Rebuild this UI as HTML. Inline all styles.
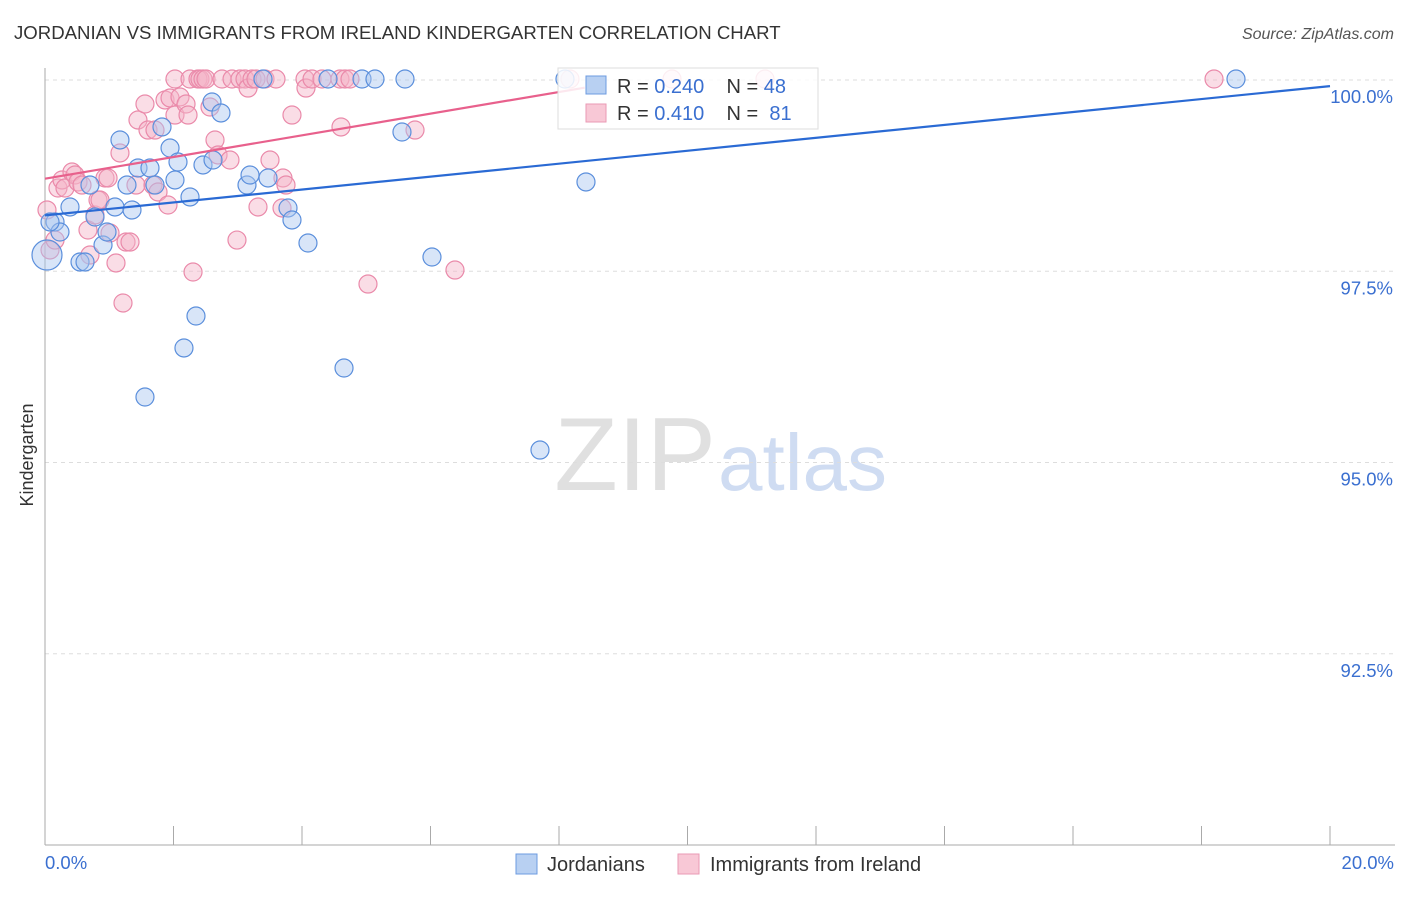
<!DOCTYPE html>
<html><head><meta charset="utf-8"><style>
body{margin:0;background:#fff;font-family:"Liberation Sans",sans-serif}
svg text{font-family:"Liberation Sans",sans-serif}
</style></head><body>
<svg id="chart" width="1406" height="892" xmlns="http://www.w3.org/2000/svg">
<text x="14" y="39" font-size="18.6" fill="#333">JORDANIAN VS IMMIGRANTS FROM IRELAND KINDERGARTEN CORRELATION CHART</text>
<text x="1394" y="39" font-size="16" fill="#555" text-anchor="end" font-style="italic">Source: ZipAtlas.com</text>
<text x="716" y="490" font-size="104" fill="#e0e0e0" text-anchor="end" font-family="Liberation Serif">ZIP</text>
<text x="718" y="490" font-size="80" fill="#cfdcf2">atlas</text>
<g id="grid"></g>
<line x1="45" y1="68" x2="45" y2="845" stroke="#aaa"/>
<line x1="45" y1="845" x2="1395" y2="845" stroke="#aaa"/>
<text x="33" y="455" font-size="18" fill="#333" transform="rotate(-90 33 455)" text-anchor="middle">Kindergarten</text>
<text x="45" y="869" font-size="18.5" fill="#3a6fd0">0.0%</text>
<text x="1394" y="869" font-size="18.5" fill="#3a6fd0" text-anchor="end">20.0%</text>
<g id="pts"></g>
<g id="lines"></g>
<g>
<rect x="558" y="68" width="260" height="61" fill="#fff" fill-opacity="0.85" stroke="#ddd"/>
<rect x="586" y="76" width="20" height="18" fill="#b8d0f2" stroke="#6d9be0"/>
<rect x="586" y="104" width="20" height="18" fill="#f8c8d6" stroke="#ea9ab4"/>
<text x="617" y="93" font-size="20" fill="#333" xml:space="preserve">R = <tspan fill="#3a6fd0">0.240</tspan>    N = <tspan fill="#3a6fd0">48</tspan></text>
<text x="617" y="120" font-size="20" fill="#333" xml:space="preserve">R = <tspan fill="#3a6fd0">0.410</tspan>    N =  <tspan fill="#3a6fd0">81</tspan></text>
</g>
<g>
<rect x="516" y="854" width="21" height="20" fill="#b8d0f2" stroke="#6d9be0"/>
<text x="547" y="871" font-size="20" fill="#333">Jordanians</text>
<rect x="678" y="854" width="21" height="20" fill="#f8c8d6" stroke="#ea9ab4"/>
<text x="710" y="871" font-size="20" fill="#333">Immigrants from Ireland</text>
</g>
</svg>
<script>
const yTicks=[100,97.5,95,92.5];
const yTickLabels=["100.0%","97.5%","95.0%","92.5%"];
const xTicks=[0,2,4,6,8,10,12,14,16,18,20];
const bluePx=[[55,222],[60,232],[70,207],[80,262],[85,262],[90,185],[95,217],[103,245],[107,232],[115,207],[120,140],[127,185],[132,210],[138,168],[150,168],[155,185],[162,127],[170,148],[175,180],[178,162],[184,348],[190,197],[196,316],[203,165],[212,102],[213,160],[221,113],[247,185],[250,175],[263,79],[268,178],[288,208],[292,220],[308,243],[328,79],[344,368],[362,79],[375,79],[402,132],[405,79],[432,257],[540,450],[145,397],[565,79],[586,182],[1236,79],[47,255],[50,222]];
const pinkPx=[[47,210],[50,250],[55,240],[58,188],[62,180],[65,188],[72,172],[75,175],[78,182],[82,185],[88,230],[90,255],[95,215],[98,200],[100,200],[105,178],[108,178],[110,233],[116,263],[120,153],[123,303],[126,242],[130,242],[136,185],[138,120],[145,104],[148,130],[153,185],[155,130],[158,192],[165,100],[168,205],[170,98],[175,79],[175,115],[180,97],[186,104],[188,115],[190,79],[193,272],[198,79],[200,79],[203,79],[206,79],[210,107],[215,140],[218,155],[222,79],[230,160],[232,79],[237,240],[240,79],[245,79],[248,88],[252,79],[256,79],[258,207],[265,79],[270,160],[276,79],[282,208],[283,178],[286,185],[292,115],[305,79],[306,88],[312,79],[322,79],[340,79],[341,127],[345,79],[350,79],[368,284],[415,130],[455,270],[570,79],[672,79],[765,79],[1214,79]];
const blueX=bluePx.map(p=>+((p[0]-45)/1285*20).toFixed(3));
const blueY=bluePx.map(p=>+(100-(p[1]-80)/76.5).toFixed(3));
const pinkX=pinkPx.map(p=>+((p[0]-45)/1285*20).toFixed(3));
const pinkY=pinkPx.map(p=>+(100-(p[1]-80)/76.5).toFixed(3));
const blueTrend=[[0,98.23],[20,99.92]];
const pinkTrend=[[0,98.71],[8.4,99.9]];
const X=v=>45+v/20*1285, Y=v=>80+(100-v)*76.5;
const NS="http://www.w3.org/2000/svg";
const grid=document.getElementById('grid');
yTicks.forEach((t,i)=>{
 const l=document.createElementNS(NS,'line');
 l.setAttribute('x1',45);l.setAttribute('x2',1395);l.setAttribute('y1',Y(t));l.setAttribute('y2',Y(t));
 l.setAttribute('stroke','#ddd');l.setAttribute('stroke-dasharray','4 4');
 
 
 grid.appendChild(l);
 const tx=document.createElementNS(NS,'text');
 tx.setAttribute('x',1393);tx.setAttribute('y',Y(t)+23);tx.setAttribute('text-anchor','end');
 tx.setAttribute('font-size','18.5');tx.setAttribute('fill','#3a6fd0');tx.textContent=yTickLabels[i];
 
 
 grid.appendChild(tx);
});
xTicks.forEach(t=>{
 const l=document.createElementNS(NS,'line');
 l.setAttribute('x1',X(t));l.setAttribute('x2',X(t));l.setAttribute('y1',826);l.setAttribute('y2',845);
 l.setAttribute('stroke','#aaa');
 
 
 grid.appendChild(l);
});
const pts=document.getElementById('pts');
function dots(xs,ys,fill,stroke,name){
 xs.forEach((x,i)=>{
  const c=document.createElementNS(NS,'circle');
  c.setAttribute('cx',X(x));c.setAttribute('cy',Y(ys[i]));
  c.setAttribute('r',(name==='point-jordanian'&&i===46)?15:9);
  c.setAttribute('fill',fill);c.setAttribute('fill-opacity','0.45');
  c.setAttribute('stroke',stroke);c.setAttribute('stroke-width','1.2');
  
  
  pts.appendChild(c);
 });
}
dots(pinkX,pinkY,'#f5b4c8','#ea8aaa','point-ireland');
dots(blueX,blueY,'#a8c6ef','#5b8fdc','point-jordanian');
const lines=document.getElementById('lines');
[[blueTrend,'#2a6ad4','trend-line-jordanians'],[pinkTrend,'#e8608c','trend-line-ireland']].forEach(([tr,col,nm])=>{
 const l=document.createElementNS(NS,'line');
 l.setAttribute('x1',X(tr[0][0]));l.setAttribute('y1',Y(tr[0][1]));
 l.setAttribute('x2',X(tr[1][0]));l.setAttribute('y2',Y(tr[1][1]));
 l.setAttribute('stroke',col);l.setAttribute('stroke-width','2.2');
 
 
 lines.appendChild(l);
});
</script>
</body></html>
